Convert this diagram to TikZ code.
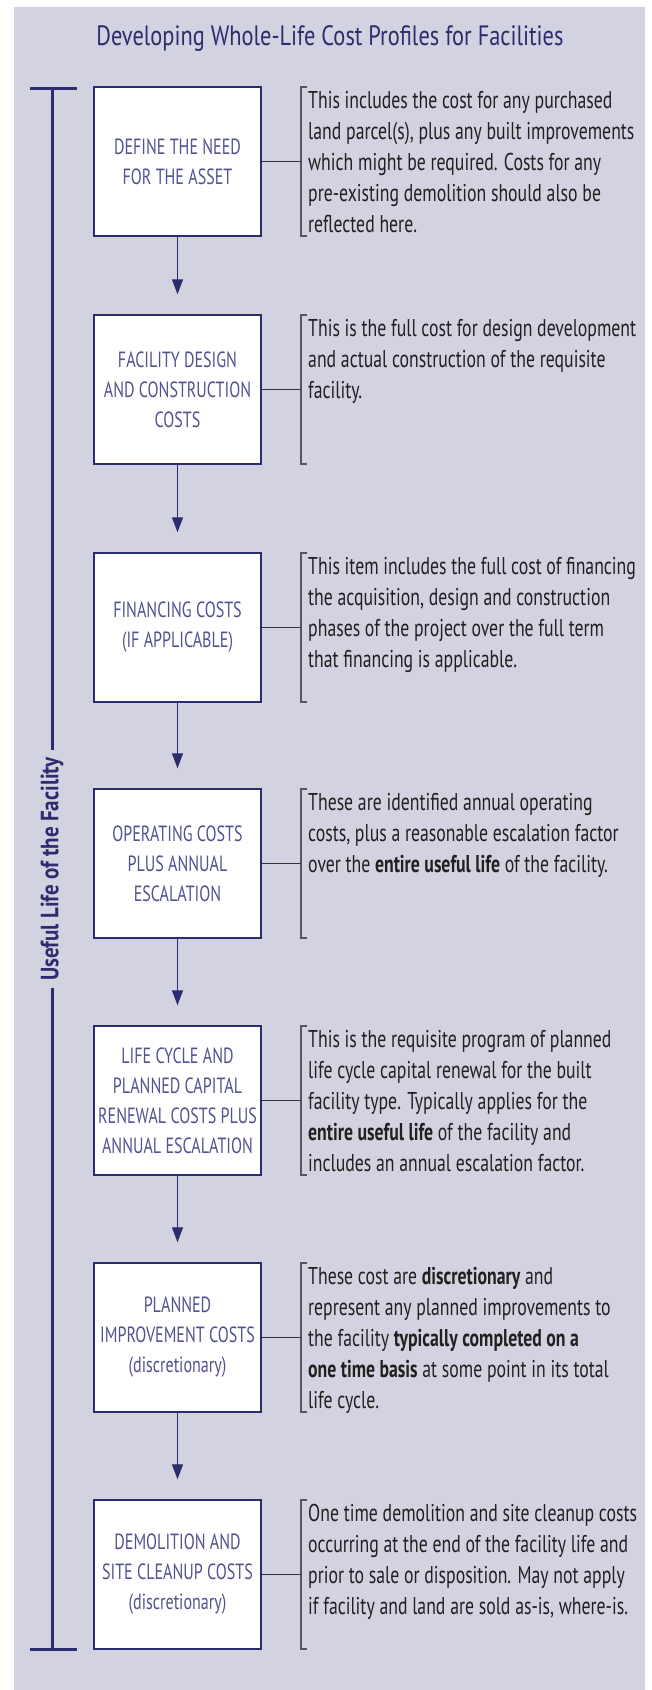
\documentclass[tikz,border=0pt]{standalone}
\usepackage{fontspec}
\setmainfont{PT Sans}[FakeStretch=0.73]
\newfontfamily\titlefont{PT Sans}[FakeStretch=0.8]
\newfontfamily\labelfont{PT Sans}[FakeStretch=0.84]
\usetikzlibrary{arrows.meta}
\definecolor{bg}{RGB}{211,210,224}
\definecolor{navy}{RGB}{45,44,110}
\definecolor{boxtxt}{RGB}{82,82,146}
\definecolor{desctxt}{RGB}{35,31,32}
\definecolor{brk}{RGB}{85,85,92}
\tikzset{
  stepbox/.style={draw=navy, line width=1.4pt, fill=white, minimum width=167pt, minimum height=149pt,
    inner sep=0pt, align=center, text=boxtxt, font=\fontsize{22}{30}\selectfont},
  desc/.style={anchor=north west, inner sep=0pt, align=left, text=desctxt, font=\fontsize{24.3}{31}\selectfont},
  flowarrow/.style={draw=navy, line width=1.3pt, -{Triangle[length=15pt,width=11pt]}, shorten >=20pt},
  link/.style={draw=black!80, line width=1pt},
  bracket/.style={draw=brk, line width=1.2pt},
  bar/.style={draw=navy, line width=3pt},
}
\newcommand{\fs}{\rule{0pt}{21pt}}
\begin{document}
\begin{tikzpicture}[x=1pt,y=-1pt]
\useasboundingbox (0,0) rectangle (651,1690);
\fill[bg] (14,7) rectangle (645,1690);

\node[anchor=base, text=navy, font=\titlefont\fontsize{28}{30}\selectfont] (title) at (330,45)
  {Developing Whole-Life Cost Profiles for Facilities};

% useful life bar
\coordinate (bartop) at (52,88);
\coordinate (barbot) at (52,1649);
\draw[bar] (bartop) -- (barbot);
\draw[bar] (30,88) -- (77,88);
\draw[bar] (30,1649) -- (77,1649);
\node[rotate=90, fill=bg, text=navy, font=\labelfont\bfseries\fontsize{25}{28}\selectfont,
  inner xsep=7pt, inner ysep=3pt] (life) at (52,869) {Useful Life of the Facility};

% boxes
\node[stepbox] (b1) at (177.5,161.5) {DEFINE THE NEED\\FOR THE ASSET};
\node[stepbox] (b2) at (177.5,389.5) {FACILITY DESIGN\\AND CONSTRUCTION\\COSTS};
\node[stepbox] (b3) at (177.5,627.5) {FINANCING COSTS\\(IF APPLICABLE)};
\node[stepbox] (b4) at (177.5,863.5) {OPERATING COSTS\\PLUS ANNUAL\\ESCALATION};
\node[stepbox] (b5) at (177.5,1100.5) {LIFE CYCLE AND\\PLANNED CAPITAL\\RENEWAL COSTS PLUS\\ANNUAL ESCALATION};
\node[stepbox] (b6) at (177.5,1337.5) {PLANNED\\IMPROVEMENT COSTS\\(discretionary)};
\node[stepbox] (b7) at (177.5,1574.5) {DEMOLITION AND\\SITE CLEANUP COSTS\\(discretionary)};

\draw[flowarrow] (b1) -- (b2);
\draw[flowarrow] (b2) -- (b3);
\draw[flowarrow] (b3) -- (b4);
\draw[flowarrow] (b4) -- (b5);
\draw[flowarrow] (b5) -- (b6);
\draw[flowarrow] (b6) -- (b7);

% brackets and connectors
\foreach \t/\m [count=\i] in {87/161.5, 315/389.5, 553/627.5, 789/863.5, 1026/1100.5, 1263/1337.5, 1500/1574.5}{
  \draw[bracket] (307,\t) -- (301,\t) -- (301,\t+149) -- (307,\t+149);
  \coordinate (k\i) at (301,\m);
}
\draw[link] (b1) -- (k1);
\draw[link] (b2) -- (k2);
\draw[link] (b3) -- (k3);
\draw[link] (b4) -- (k4);
\draw[link] (b5) -- (k5);
\draw[link] (b6) -- (k6);
\draw[link] (b7) -- (k7);

% descriptions
\node[desc] (d1) at (308,87) {\fs This includes the cost for any purchased\\land parcel(s), plus any built improvements\\which might be required. Costs for any\\pre-existing demolition should also be\\reflected here.};
\node[desc] (d2) at (308,315) {\fs This is the full cost for design development\\and actual construction of the requisite\\facility.};
\node[desc] (d3) at (308,553) {\fs This item includes the full cost of financing\\the acquisition, design and construction\\phases of the project over the full term\\that financing is applicable.};
\node[desc] (d4) at (308,789) {\fs These are identified annual operating\\costs, plus a reasonable escalation factor\\over the \textbf{entire useful life} of the facility.};
\node[desc] (d5) at (308,1026) {\fs This is the requisite program of planned\\life cycle capital renewal for the built\\facility type. Typically applies for the\\\textbf{entire useful life} of the facility and\\includes an annual escalation factor.};
\node[desc] (d6) at (308,1263) {\fs These cost are \textbf{discretionary} and\\represent any planned improvements to\\the facility \textbf{typically completed on a}\\\textbf{one time basis} at some point in its total\\life cycle.};
\node[desc] (d7) at (308,1500) {\fs One time demolition and site cleanup costs\\occurring at the end of the facility life and\\prior to sale or disposition. May not apply\\if facility and land are sold as-is, where-is.};
\end{tikzpicture}
\end{document}
